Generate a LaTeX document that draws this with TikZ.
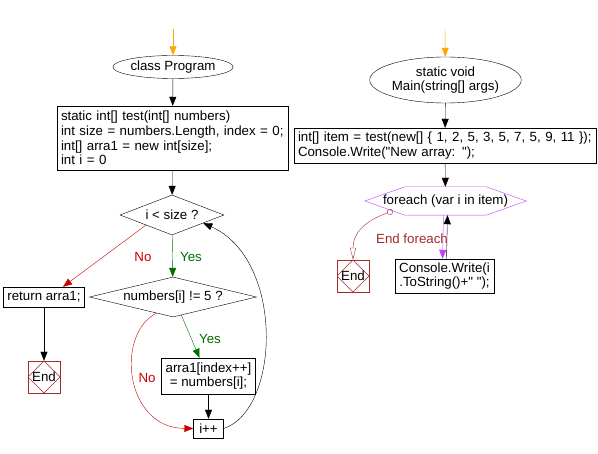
\documentclass[tikz,border=0pt]{standalone}
\usepackage{fontspec}
\setmainfont{Liberation Sans}[Ligatures=TeXOff]
\usetikzlibrary{arrows.meta,shapes.geometric,calc}

\definecolor{startorange}{RGB}{255,165,0}
\definecolor{nored}{RGB}{204,0,0}
\definecolor{yesgreen}{RGB}{0,110,0}
\definecolor{endred}{RGB}{165,42,42}
\definecolor{looppurple}{RGB}{191,64,255}

\tikzset{
  flow/.style={-{Triangle[length=9pt,width=7pt]}},
  procbox/.style={draw, rectangle, inner xsep=4pt, inner ysep=2pt},
  decision/.style={draw, diamond, inner sep=0pt},
  terminal/.style={draw, ellipse, inner sep=0pt, align=center},
  endbox/.style={draw=endred, rectangle, minimum size=32pt, inner sep=0pt,
    path picture={\draw[endred] (path picture bounding box.north) -- (path picture bounding box.east)
      -- (path picture bounding box.south) -- (path picture bounding box.west) -- cycle;}},
  loopbox/.style={rectangle, minimum width=161pt, minimum height=28pt, inner sep=0pt},
}

\begin{document}
\begin{tikzpicture}[x=1pt, y=-1pt, font=\fontsize{13.3}{14.6}\selectfont]
\useasboundingbox (0,0) rectangle (598,454);

% test method section
\coordinate (startL) at (173,29);
\node[terminal, minimum width=99pt, minimum height=23pt] (classprog) at (173,67) {class Program};
\node[procbox, minimum height=64pt, text width=223pt, align=left] (testhead) at (172.5,138)
  {static int[] test(int[] numbers)\\int size = numbers.Length, index = 0;\\int[] arra1 = new int[size];\\int i = 0};
\node[decision, aspect=2.6, minimum width=104pt, minimum height=40pt] (cond1) at (172,215) {i < size ?};
\node[decision, aspect=4, minimum width=167pt, minimum height=40pt] (cond2) at (173,297) {numbers[i] != 5 ?};
\node[procbox, minimum width=80pt, minimum height=20pt, inner ysep=0pt] (ret) at (44,297) {return arra1;};
\node[endbox] (end1) at (44,377) {End};
\node[procbox, minimum width=94pt, minimum height=36pt, inner ysep=0pt, align=center] (arr) at (208.5,376)
  {arra1[index++]\\= numbers[i];};
\node[procbox, minimum width=30pt, minimum height=19pt, inner sep=0pt] (inc) at (208.5,428.5) {i++};

\draw[flow, startorange] (startL) -- (classprog);
\draw[flow] (classprog) -- (testhead);
\draw[flow] (testhead) -- (cond1);
\draw[flow, nored] (cond1.south west) -- ([xshift=19pt]ret.north);
\draw[flow, yesgreen] (cond1) -- (cond2);
\draw[flow] (ret) -- (end1);
\draw[flow, yesgreen] ($(cond2.south)!0.1!(cond2.east)$) -- ([xshift=-9pt]arr.north);
\draw[flow, nored] ($(cond2.south)!0.2!(cond2.west)$) .. controls (115,335) and (125,428) .. (inc.west);
\draw[flow] (arr) -- (inc);
\draw[flow] (inc.east) .. controls (280,410) and (285,260) .. ($(cond1.south)!0.6!(cond1.east)$);

\node[nored] (no1) at (143,257) {No};
\node[yesgreen] (yes1) at (191,257) {Yes};
\node[yesgreen] (yes2) at (210,339) {Yes};
\node[nored] (no2) at (147,378) {No};

% main method section
\coordinate (startR) at (445,29);
\node[terminal, minimum width=129pt, minimum height=46pt] (mainfn) at (445.5,80) {static void\\Main(string[] args)};
\node[procbox, minimum height=35pt, text width=294pt, align=left] (itembox) at (445,145.5)
  {int[] item = test(new[] \{ 1, 2, 5, 3, 5, 7, 5, 9, 11 \});\\Console.Write("New array: ");};
\node[loopbox] (forloop) at (445.5,201) {foreach (var i in item)};
\draw[looppurple] (forloop.west) -- ([xshift=40pt]forloop.north west) -- ([xshift=-40pt]forloop.north east)
  -- (forloop.east) -- ([xshift=-40pt]forloop.south east) -- ([xshift=40pt]forloop.south west) -- cycle;
\node[endbox] (end2) at (353,276) {End};
\node[procbox, minimum width=99pt, minimum height=34pt, inner xsep=0pt, inner ysep=0pt, align=center] (cwbox) at (444.5,276)
  {Console.Write(i\\.ToString()+" ");};

\draw[flow, startorange] (startR) -- (mainfn);
\draw[flow] (mainfn) -- (itembox);
\draw[flow] (itembox) -- (forloop);
\draw[flow, looppurple] ([xshift=-2pt]forloop.south) -- ([xshift=-2pt]cwbox.north);
\draw[flow] ([xshift=2pt]cwbox.north) -- ([xshift=2pt]forloop.south);
\draw[endred, {Circle[open,length=6pt]}-{Triangle[open,length=12pt,width=6pt]}]
  ($(forloop.west)!0.7!([xshift=40pt]forloop.south west)$) .. controls (362,222) and (353,235) .. (end2.north);

\node[endred] (endlbl) at (412,239) {End foreach};

\end{tikzpicture}
\end{document}
